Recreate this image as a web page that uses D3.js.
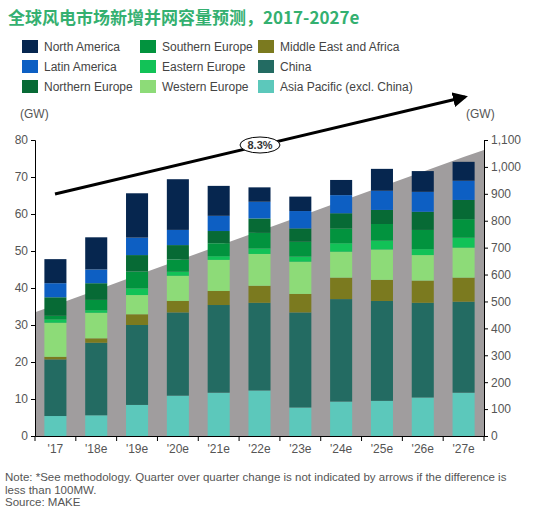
<!DOCTYPE html>
<html><head><meta charset="utf-8">
<script src="https://cdn.jsdelivr.net/npm/d3@7"></script>
<style>body{margin:0;background:#fff}text{font-family:Arial,"Liberation Sans",sans-serif}</style>
</head><body><div id="chart"></div>
<script>
const years = ["'17","'18e","'19e","'20e","'21e","'22e","'23e","'24e","'25e","'26e","'27e"];
const regions = ["Asia Pacific (excl. China)","China","Middle East and Africa","Western Europe","Eastern Europe","Southern Europe","Northern Europe","Latin America","North America"];
const colors = ["#5cc8bb","#236b62","#7b7a1f","#8ddb78","#12c257","#02933e","#076a35","#0d5fc3","#06264f"];
// cumulative tops per year (GW), bottom to top in regions order
const tops = [
  [5.4,20.7,21.4,30.6,31.5,32.5,37.5,41.3,47.8],
  [5.6,25.2,26.4,33.3,34.0,36.8,41.3,45.0,53.7],
  [8.4,30.0,32.9,38.1,39.9,44.4,48.9,53.6,65.6],
  [10.9,33.4,36.5,43.3,44.4,47.7,51.6,55.7,69.4],
  [11.7,35.4,39.2,47.6,48.6,52.1,55.4,59.5,67.6],
  [12.3,36.0,40.6,49.2,50.7,54.9,58.8,63.3,67.2],
  [7.7,33.4,38.4,47.1,48.5,52.5,56.1,60.8,64.7],
  [9.3,37.0,42.8,49.8,52.1,56.1,60.2,65.1,69.2],
  [9.5,36.5,42.2,50.4,52.8,57.3,61.1,66.3,72.2],
  [10.4,36.0,42.0,48.9,50.5,55.7,60.6,66.0,71.6],
  [11.7,36.3,42.8,50.9,53.6,58.6,63.8,69.0,74.1]
];
const cumulative = [487,542,597,652,707,762,817,872,927,982,1037]; // right axis GW
const cumEdges = [460,1063];
const leftTicks = d3.range(0,81,10);
const rightTicks = d3.range(0,1101,100);
const legendOrder = ["North America","Southern Europe","Middle East and Africa","Latin America","Eastern Europe","China","Northern Europe","Western Europe","Asia Pacific (excl. China)"];

const W=552,H=517, L=35, R=484, T=140, B=436;
const svg=d3.select("#chart").append("svg").attr("width",W).attr("height",H);
const x=d3.scaleBand().domain(years).range([L,R]).paddingInner(0.46).paddingOuter(0.23);
const yL=d3.scaleLinear().domain([0,80]).range([B,T]);
const yR=d3.scaleLinear().domain([0,1100]).range([B,T]);

svg.append("text").attr("x",8).attr("y",24).attr("fill","#34b070").attr("font-size",17).attr("font-weight","bold")
  .style("font-family","'Noto Sans CJK SC',sans-serif").text("全球风电市场新增并网容量预测，2017-2027e");

const colX=[22,140,258];
legendOrder.forEach((n,i)=>{
  const g=svg.append("g").attr("transform",`translate(${colX[i%3]},${47+Math.floor(i/3)*20})`);
  g.append("rect").attr("x",0).attr("y",-7).attr("width",16).attr("height",13).attr("fill",colors[regions.indexOf(n)]);
  g.append("text").attr("x",22).attr("y",4).attr("font-size",12).attr("fill","#444").text(n);
});

// gray cumulative area
const pts=[[L,cumEdges[0]]].concat(years.map((d,i)=>[x(d)+x.bandwidth()/2,cumulative[i]])).concat([[R,cumEdges[1]]]);
svg.append("path").datum(pts).attr("fill","#a09d9e")
  .attr("d",d3.area().x(d=>d[0]).y0(B).y1(d=>yR(d[1])));

// bars
years.forEach((yr,i)=>{
  tops[i].forEach((t,j)=>{
    const b=j?tops[i][j-1]:0;
    svg.append("rect").attr("x",x(yr)).attr("width",x.bandwidth())
      .attr("y",yL(t)).attr("height",yL(b)-yL(t)).attr("fill",colors[j]);
  });
});

const axL=svg.append("g").attr("transform",`translate(${L},0)`).call(d3.axisLeft(yL).tickValues(leftTicks).tickSize(4));
const axR=svg.append("g").attr("transform",`translate(${R},0)`).call(d3.axisRight(yR).tickValues(rightTicks).tickSize(4).tickFormat(d3.format(",")));
const axB=svg.append("g").attr("transform",`translate(0,${B})`).call(d3.axisBottom(x).tickSize(0).tickPadding(8));
[axL,axR,axB].forEach(a=>{a.select(".domain").attr("stroke","#000");a.selectAll("line").attr("stroke","#000");
  a.selectAll("text").attr("font-size",12).attr("fill","#555").style("font-family","Arial,'Liberation Sans',sans-serif");});
// bottom ticks between bands
svg.append("g").selectAll("line").data(d3.range(years.length+1)).join("line")
  .attr("x1",i=>L+i*(R-L)/years.length).attr("x2",i=>L+i*(R-L)/years.length)
  .attr("y1",B).attr("y2",B+5).attr("stroke","#000");

svg.append("text").attr("x",20).attr("y",118).attr("font-size",12).attr("fill","#555").text("(GW)");
svg.append("text").attr("x",466).attr("y",118).attr("font-size",12).attr("fill","#555").text("(GW)");

// CAGR arrow
svg.append("defs").append("marker").attr("id","ah").attr("viewBox","0 0 10 10").attr("refX",8).attr("refY",5)
  .attr("markerWidth",5).attr("markerHeight",5).attr("orient","auto").append("path").attr("d","M0,0L10,5L0,10z").attr("fill","#000");
svg.append("line").attr("x1",55).attr("y1",194).attr("x2",465).attr("y2",97).attr("stroke","#000").attr("stroke-width",3).attr("marker-end","url(#ah)");
svg.append("ellipse").attr("cx",260).attr("cy",145).attr("rx",20).attr("ry",8).attr("fill","#fff").attr("stroke","#000");
svg.append("text").attr("x",260).attr("y",149).attr("text-anchor","middle").attr("font-size",11).attr("fill","#333").attr("font-weight","bold").text("8.3%");

const notes=["Note: *See methodology. Quarter over quarter change is not indicated by arrows if the difference is","less than 100MW.","Source: MAKE"];
notes.forEach((t,i)=>svg.append("text").attr("x",5).attr("y",481+i*12.5).attr("font-size",11.5).attr("fill","#555").text(t));
</script></body></html>
